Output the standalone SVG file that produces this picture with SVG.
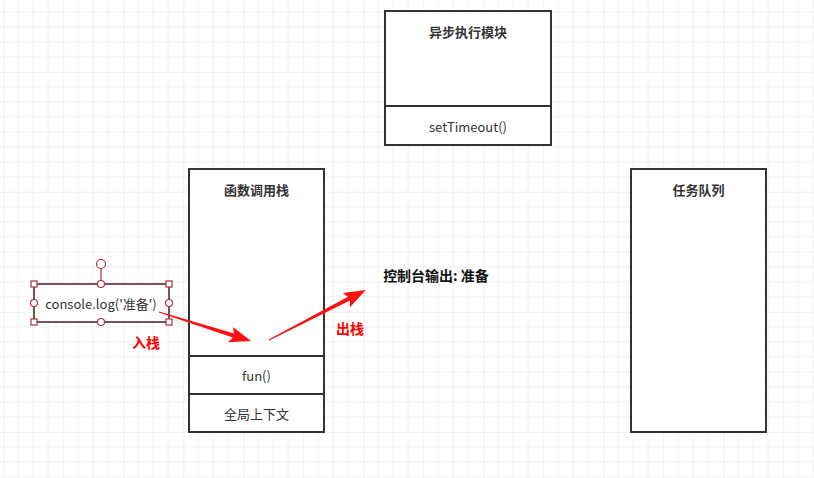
<svg xmlns="http://www.w3.org/2000/svg" width="814" height="478" viewBox="0 0 814 478">
<style>
text{font-family:"Noto Sans CJK SC","Liberation Sans",sans-serif;font-size:13px;fill:#333;text-anchor:middle;dominant-baseline:central}
.t{font-weight:bold}
.box{fill:#fff;stroke:#333;stroke-width:2}
.div{stroke:#333;stroke-width:2}
.red{fill:#ff0000;font-weight:bold;font-size:14px}
.arrow{fill:#ff1010}
.h{fill:#fff;stroke:#a3333d;stroke-width:1.2}
</style>
<defs>
<pattern id="g" width="60" height="60" patternUnits="userSpaceOnUse" x="3.3" y="11.7">
<path d="M15 0V60M30 0V60M45 0V60M0 15H60M0 30H60M0 45H60" stroke="#efefef" stroke-width="1" fill="none"/>
<path d="M0 0V60M0 0H60" stroke="#e2e2e2" stroke-width="1" fill="none"/>
</pattern>
</defs>
<rect width="814" height="478" fill="#fff"/>
<rect width="814" height="478" fill="url(#g)"/>
<g id="async">
<rect class="box" x="385" y="11" width="166" height="134"/>
<line class="div" x1="385" y1="106" x2="551" y2="106"/>
<text class="t" x="468" y="31">异步执行模块</text>
<text x="468" y="126">setTimeout()</text>
</g>
<g id="callstack">
<rect class="box" x="189" y="169" width="135" height="263"/>
<line class="div" x1="189" y1="356" x2="324" y2="356"/>
<line class="div" x1="189" y1="394" x2="324" y2="394"/>
<text class="t" x="256.5" y="189">函数调用栈</text>
<text x="256.5" y="375">fun()</text>
<text x="256.5" y="413">全局上下文</text>
</g>
<g id="taskqueue">
<rect class="box" x="631" y="169" width="135" height="263"/>
<text class="t" x="698.5" y="189">任务队列</text>
</g>
<g id="console">
<rect x="34" y="284" width="135" height="38" fill="#fff" stroke="#4a1c20" stroke-width="1.5"/>
<text x="101" y="303">console.log('准备')</text>
<line x1="101" y1="268.5" x2="101" y2="284" stroke="#a3333d" stroke-width="1.2"/>
<circle class="h" cx="101" cy="264" r="4.5"/>
<rect class="h" x="31" y="281" width="6" height="6"/>
<rect class="h" x="166" y="281" width="6" height="6"/>
<rect class="h" x="31" y="319" width="6" height="6"/>
<rect class="h" x="166" y="319" width="6" height="6"/>
<circle class="h" cx="101" cy="284" r="3.5"/>
<circle class="h" cx="101" cy="322" r="3.5"/>
<circle class="h" cx="34" cy="303" r="3.5"/>
<circle class="h" cx="169" cy="303" r="3.5"/>
</g>
<g id="connectors">
<polygon class="arrow" points="0,-0.6 78,-2.1 75,-8 96.5,0 75,8 78,2.1 0,0.6" transform="translate(159,312) rotate(17.5)"/>
<polygon class="arrow" points="0,-0.6 90,-2.1 87,-8 109,0 87,8 90,2.1 0,0.6" transform="translate(269,340) rotate(-27.3)"/>
</g>
<text class="red" x="146" y="342">入栈</text>
<text class="red" x="350" y="328">出栈</text>
<text class="t" x="436" y="275" style="font-size:14px;fill:#111">控制台输出: 准备</text>
</svg>
